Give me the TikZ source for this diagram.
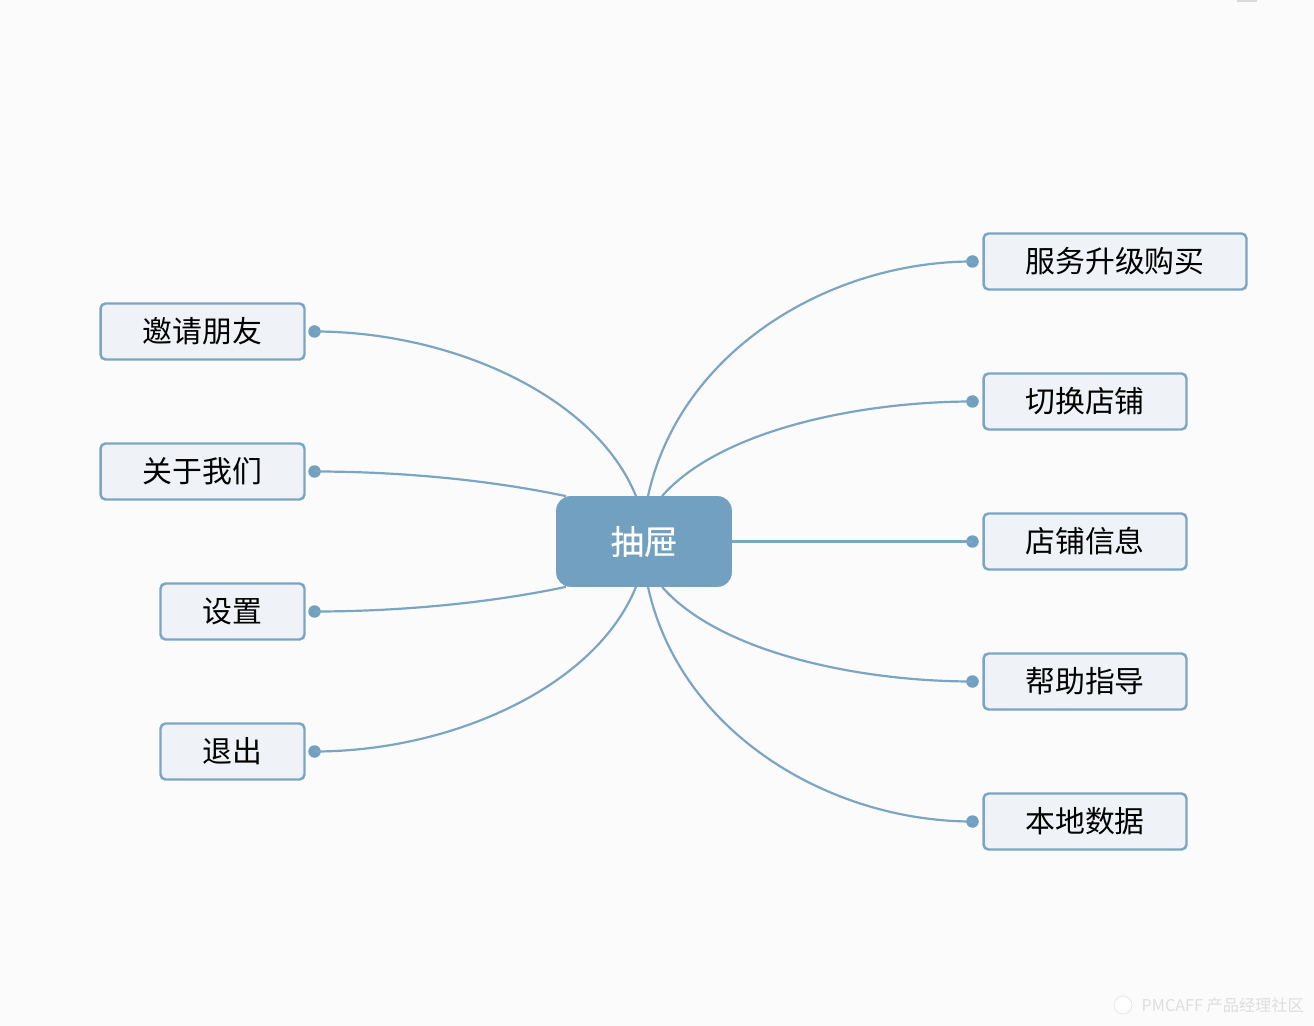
\documentclass[tikz,border=0pt]{standalone}
\usepackage{fontspec}
\setmainfont{Noto Sans CJK SC}
\newfontfamily\hubfont[FakeBold=0.5]{Noto Sans CJK SC}
\definecolor{linkblue}{HTML}{7BA5C2}
\definecolor{hubblue}{HTML}{71A0C0}
\definecolor{boxfill}{HTML}{EFF3F7}
\definecolor{pagegray}{HTML}{FBFBFB}
\tikzset{
    hubbox/.style={draw=hubblue,fill=hubblue,rectangle,rounded corners=0.28cm,minimum width=3.5cm,minimum height=1.8cm,inner sep=0pt,text=white,font=\hubfont\fontsize{19}{19}\selectfont},
    leafbox/.style={draw=linkblue,fill=boxfill,line width=1.4pt,rectangle,rounded corners=0.1cm,minimum height=1.12cm,inner sep=0pt,text=black,font=\fontsize{17}{17}\selectfont},
    leaftip/.style={circle,fill=hubblue,minimum size=0.25cm,inner sep=0pt},
    link/.style={draw=linkblue,line width=1.25pt}
}
\begin{document}
\begin{tikzpicture}[x=0.02cm,y=-0.02cm]
        %% Page
        \fill[pagegray] (0,0) rectangle (1314,1026);
        \useasboundingbox (0,0) rectangle (1314,1026);
        \fill[black!15] (1237,0) rectangle (1257,2);
        %% Links, under the boxes
        \node[hubbox] (hub) at (644,541.5) {抽屉};
        \node[leaftip] (upgradetip) at (972.5,261.5) {};
        \node[leaftip] (switchtip) at (972.5,401.5) {};
        \node[leaftip] (infotip) at (972.5,541.5) {};
        \node[leaftip] (helptip) at (972.5,681.5) {};
        \node[leaftip] (localtip) at (972.5,821.5) {};
        \node[leaftip] (invitetip) at (314.5,331.5) {};
        \node[leaftip] (abouttip) at (314.5,471.5) {};
        \node[leaftip] (settip) at (314.5,611.5) {};
        \node[leaftip] (quittip) at (314.5,751.5) {};
        %% Right side
        \draw[link] (hub.north) ++(4,0) .. controls (680,350) and (830,261.5) .. (upgradetip.center);
        \draw[link] (hub.north) ++(18,0) .. controls (720,430) and (860,401.5) .. (switchtip.center);
        \draw[link] (hub.east) -- (infotip.center);
        \draw[link] (hub.south) ++(18,0) .. controls (720,653) and (860,681.5) .. (helptip.center);
        \draw[link] (hub.south) ++(4,0) .. controls (680,733) and (830,821.5) .. (localtip.center);
        %% Left side
        \draw[link] (hub.north) ++(-8,0) .. controls (595,395) and (450,331.5) .. (invitetip.center);
        \draw[link] (hub.north) ++(-78,0) .. controls (490,480) and (400,471.5) .. (abouttip.center);
        \draw[link] (hub.south) ++(-78,0) .. controls (490,603) and (400,611.5) .. (settip.center);
        \draw[link] (hub.south) ++(-8,0) .. controls (595,688) and (450,751.5) .. (quittip.center);
        %% Right boxes
        \node[leafbox,minimum width=5.26cm] (upgrade) at (1115,261.5) {服务升级购买};
        \node[leafbox,minimum width=4.06cm] (switch) at (1085,401.5) {切换店铺};
        \node[leafbox,minimum width=4.06cm] (info) at (1085,541.5) {店铺信息};
        \node[leafbox,minimum width=4.06cm] (help) at (1085,681.5) {帮助指导};
        \node[leafbox,minimum width=4.06cm] (local) at (1085,821.5) {本地数据};
        %% Left boxes
        \node[leafbox,minimum width=4.08cm] (invite) at (202.5,331.5) {邀请朋友};
        \node[leafbox,minimum width=4.08cm] (about) at (202.5,471.5) {关于我们};
        \node[leafbox,minimum width=2.88cm] (set) at (232.5,611.5) {设置};
        \node[leafbox,minimum width=2.88cm] (quit) at (232.5,751.5) {退出};
        %% Watermark
        \node[text=black!13,font=\fontsize{9.2}{9.2}\selectfont,anchor=east,inner sep=0pt] (mark) at (1304,1005) {PMCAFF 产品经理社区};
        \node[draw=black!10,fill=white,circle,minimum size=0.36cm,inner sep=0pt] (marklogo) at (1123,1005) {};
    \end{tikzpicture}
\end{document}
